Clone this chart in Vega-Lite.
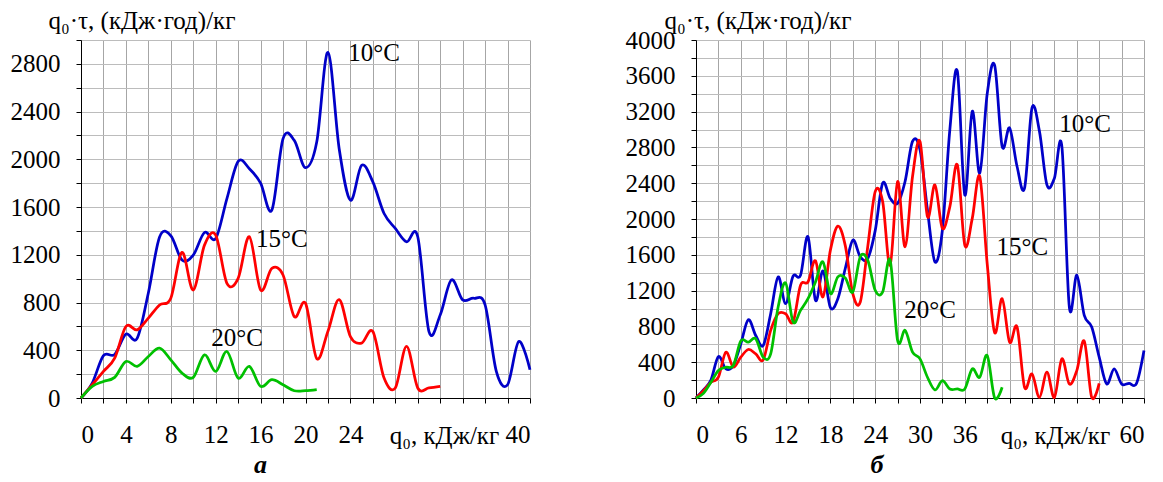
{
  "$schema": "https://vega.github.io/schema/vega-lite/v6.json",
  "padding": {"left": 10, "top": 8, "right": 5, "bottom": 5},
  "background": "white",
  "config": {
    "view": {"stroke": null},
    "title": {"font": "Liberation Serif", "fontSize": 26, "fontStyle": "italic", "fontWeight": "bold", "color": "black"}
  },
  "bounds": "flush",
  "spacing": 166,
  "hconcat": [
    {
      "width": 449,
      "height": 358,
      "title": {"text": "а", "orient": "bottom", "anchor": "middle", "dx": -45, "offset": 4},
      "resolve": {"axis": {"x": "independent", "y": "independent"}},
      "layer": [
        {
          "data": {"values": [
      {"s":"10","q":0,"v":0},{"s":"10","q":1,"v":125},{"s":"10","q":2,"v":355},{"s":"10","q":3,"v":365},{"s":"10","q":4,"v":535},{"s":"10","q":5,"v":500},{"s":"10","q":6,"v":880},{"s":"10","q":7,"v":1350},{"s":"10","q":8,"v":1360},{"s":"10","q":9,"v":1156},{"s":"10","q":10,"v":1198},{"s":"10","q":11,"v":1387},{"s":"10","q":12,"v":1337},{"s":"10","q":13,"v":1671},{"s":"10","q":14,"v":1983},{"s":"10","q":15,"v":1922},{"s":"10","q":16,"v":1800},{"s":"10","q":17,"v":1574},{"s":"10","q":18,"v":2173},{"s":"10","q":19,"v":2159},{"s":"10","q":20,"v":1930},{"s":"10","q":21,"v":2145},{"s":"10","q":22,"v":2897},{"s":"10","q":23,"v":2089},{"s":"10","q":24,"v":1657},{"s":"10","q":25,"v":1950},{"s":"10","q":26,"v":1811},{"s":"10","q":27,"v":1546},{"s":"10","q":28,"v":1421},{"s":"10","q":29,"v":1309},{"s":"10","q":30,"v":1351},{"s":"10","q":31,"v":557},{"s":"10","q":32,"v":696},{"s":"10","q":33,"v":989},{"s":"10","q":34,"v":822},{"s":"10","q":35,"v":836},{"s":"10","q":36,"v":780},{"s":"10","q":37,"v":223},{"s":"10","q":38,"v":111},{"s":"10","q":39,"v":474},{"s":"10","q":40,"v":237},
      {"s":"15","q":0,"v":0},{"s":"15","q":1,"v":111},{"s":"15","q":2,"v":223},{"s":"15","q":3,"v":334},{"s":"15","q":4,"v":599},{"s":"15","q":5,"v":571},{"s":"15","q":6,"v":669},{"s":"15","q":7,"v":780},{"s":"15","q":8,"v":836},{"s":"15","q":9,"v":1220},{"s":"15","q":10,"v":905},{"s":"15","q":11,"v":1281},{"s":"15","q":12,"v":1365},{"s":"15","q":13,"v":961},{"s":"15","q":14,"v":1003},{"s":"15","q":15,"v":1351},{"s":"15","q":16,"v":905},{"s":"15","q":17,"v":1086},{"s":"15","q":18,"v":1031},{"s":"15","q":19,"v":682},{"s":"15","q":20,"v":794},{"s":"15","q":21,"v":330},{"s":"15","q":22,"v":560},{"s":"15","q":23,"v":825},{"s":"15","q":24,"v":515},{"s":"15","q":25,"v":460},{"s":"15","q":26,"v":557},{"s":"15","q":27,"v":167},{"s":"15","q":28,"v":84},{"s":"15","q":29,"v":432},{"s":"15","q":30,"v":84},{"s":"15","q":31,"v":84},{"s":"15","q":32,"v":97},
      {"s":"20","q":0,"v":0},{"s":"20","q":1,"v":97},{"s":"20","q":2,"v":139},{"s":"20","q":3,"v":173},{"s":"20","q":4,"v":306},{"s":"20","q":5,"v":265},{"s":"20","q":6,"v":348},{"s":"20","q":7,"v":418},{"s":"20","q":8,"v":320},{"s":"20","q":9,"v":209},{"s":"20","q":10,"v":173},{"s":"20","q":11,"v":362},{"s":"20","q":12,"v":223},{"s":"20","q":13,"v":390},{"s":"20","q":14,"v":167},{"s":"20","q":15,"v":265},{"s":"20","q":16,"v":97},{"s":"20","q":17,"v":153},{"s":"20","q":18,"v":111},{"s":"20","q":19,"v":61},{"s":"20","q":20,"v":61},{"s":"20","q":21,"v":70}
          ]},
          "mark": {"type": "line", "interpolate": "cardinal", "strokeWidth": 2.75},
          "encoding": {
            "x": {
              "field": "q", "type": "quantitative",
              "scale": {"domain": [0, 40], "nice": false},
              "axis": {
                "values": [0,2,4,6,8,10,12,14,16,18,20,22,24,26,28,30,32,34,36,38,40],
                "format": "d",
                "labelOverlap": false,
                "labelFont": "Liberation Serif", "labelFontSize": 25, "labelColor": "black",
                "labelExpr": "(datum.value % 4 === 0 && (datum.value <= 24 || datum.value === 40)) ? datum.label : ''",
                "labelPadding": 19,
                "tickSize": 5, "tickColor": "black", "domainColor": "black",
                "grid": true, "gridColor": "#a6a6a6", "gridOpacity": 1,
                "title": "q₀, кДж/кг",
                "titleFont": "Liberation Serif", "titleFontSize": 25, "titleFontWeight": "normal", "titleColor": "black",
                "titleX": 363, "titleY": 45, "titleAlign": "center", "titleBaseline": "alphabetic"
              }
            },
            "y": {
              "field": "v", "type": "quantitative",
              "scale": {"domain": [0, 3000], "nice": false},
              "axis": {
                "values": [0,200,400,600,800,1000,1200,1400,1600,1800,2000,2200,2400,2600,2800,3000],
                "format": "d",
                "labelOverlap": false,
                "labelFont": "Liberation Serif", "labelFontSize": 25, "labelColor": "black",
                "labelExpr": "datum.value % 400 === 0 ? datum.label : ''",
                "labelPadding": 16,
                "tickSize": 5, "tickColor": "black", "domainColor": "black",
                "grid": true, "gridColor": "#bcbcbc", "gridOpacity": 1,
                "title": "q₀·τ, (кДж·год)/кг",
                "titleFont": "Liberation Serif", "titleFontSize": 25, "titleFontWeight": "normal", "titleColor": "black",
                "titleAngle": 0, "titleAlign": "left", "titleBaseline": "alphabetic",
                "titleX": -33, "titleY": -12
              }
            },
            "color": {
              "field": "s", "type": "nominal", "legend": null,
              "scale": {"domain": ["10","15","20"], "range": ["#0000C8","#FF0000","#00C000"]}
            }
          }
        },
        {
          "data": {"values": [
            {"t":"10°C","q":26.1,"v":2890},{"t":"15°C","q":17.9,"v":1330},{"t":"20°C","q":13.9,"v":502}
          ]},
          "mark": {"type": "text", "font": "Liberation Serif", "fontSize": 25, "align": "center", "baseline": "middle", "color": "black"},
          "encoding": {
            "x": {"field": "q", "type": "quantitative", "axis": null},
            "y": {"field": "v", "type": "quantitative", "axis": null},
            "text": {"field": "t"}
          }
        }
      ]
    },
    {
      "width": 448,
      "height": 358,
      "title": {"text": "б", "orient": "bottom", "anchor": "middle", "dx": -43, "offset": 4},
      "resolve": {"axis": {"x": "independent", "y": "independent"}},
      "layer": [
        {
          "data": {"values": [
      {"s":"10","q":0,"v":0},{"s":"10","q":1,"v":90},{"s":"10","q":2,"v":200},{"s":"10","q":3,"v":463},{"s":"10","q":4,"v":325},{"s":"10","q":5,"v":363},{"s":"10","q":6,"v":605},{"s":"10","q":7,"v":875},{"s":"10","q":8,"v":699},{"s":"10","q":9,"v":587},{"s":"10","q":10,"v":942},{"s":"10","q":11,"v":1353},{"s":"10","q":12,"v":1054},{"s":"10","q":13,"v":1361},{"s":"10","q":14,"v":1372},{"s":"10","q":15,"v":1802},{"s":"10","q":16,"v":1092},{"s":"10","q":17,"v":1420},{"s":"10","q":18,"v":1009},{"s":"10","q":19,"v":1110},{"s":"10","q":20,"v":1450},{"s":"10","q":21,"v":1764},{"s":"10","q":22,"v":1578},{"s":"10","q":23,"v":1559},{"s":"10","q":24,"v":1870},{"s":"10","q":25,"v":2400},{"s":"10","q":26,"v":2232},{"s":"10","q":27,"v":2176},{"s":"10","q":28,"v":2419},{"s":"10","q":29,"v":2867},{"s":"10","q":30,"v":2774},{"s":"10","q":31,"v":2100},{"s":"10","q":32,"v":1521},{"s":"10","q":33,"v":1877},{"s":"10","q":34,"v":3000},{"s":"10","q":35,"v":3652},{"s":"10","q":36,"v":2269},{"s":"10","q":37,"v":3204},{"s":"10","q":38,"v":2512},{"s":"10","q":39,"v":3400},{"s":"10","q":40,"v":3716},{"s":"10","q":41,"v":2811},{"s":"10","q":42,"v":3017},{"s":"10","q":43,"v":2587},{"s":"10","q":44,"v":2344},{"s":"10","q":45,"v":3241},{"s":"10","q":46,"v":2979},{"s":"10","q":47,"v":2381},{"s":"10","q":48,"v":2456},{"s":"10","q":49,"v":2811},{"s":"10","q":50,"v":1017},{"s":"10","q":51,"v":1372},{"s":"10","q":52,"v":923},{"s":"10","q":53,"v":793},{"s":"10","q":54,"v":456},{"s":"10","q":55,"v":157},{"s":"10","q":56,"v":325},{"s":"10","q":57,"v":157},{"s":"10","q":58,"v":164},{"s":"10","q":59,"v":164},{"s":"10","q":60,"v":531},
      {"s":"15","q":0,"v":0},{"s":"15","q":1,"v":82},{"s":"15","q":2,"v":176},{"s":"15","q":3,"v":232},{"s":"15","q":4,"v":512},{"s":"15","q":5,"v":344},{"s":"15","q":6,"v":456},{"s":"15","q":7,"v":542},{"s":"15","q":8,"v":493},{"s":"15","q":9,"v":426},{"s":"15","q":10,"v":755},{"s":"15","q":11,"v":942},{"s":"15","q":12,"v":942},{"s":"15","q":13,"v":849},{"s":"15","q":14,"v":1260},{"s":"15","q":15,"v":1297},{"s":"15","q":16,"v":1533},{"s":"15","q":17,"v":1129},{"s":"15","q":18,"v":1652},{"s":"15","q":19,"v":1921},{"s":"15","q":20,"v":1700},{"s":"15","q":21,"v":1166},{"s":"15","q":22,"v":1073},{"s":"15","q":23,"v":1690},{"s":"15","q":24,"v":2306},{"s":"15","q":25,"v":2194},{"s":"15","q":26,"v":1484},{"s":"15","q":27,"v":2419},{"s":"15","q":28,"v":1690},{"s":"15","q":29,"v":2475},{"s":"15","q":30,"v":2867},{"s":"15","q":31,"v":2026},{"s":"15","q":32,"v":2381},{"s":"15","q":33,"v":1895},{"s":"15","q":34,"v":2138},{"s":"15","q":35,"v":2605},{"s":"15","q":36,"v":1708},{"s":"15","q":37,"v":2007},{"s":"15","q":38,"v":2475},{"s":"15","q":39,"v":1500},{"s":"15","q":40,"v":730},{"s":"15","q":41,"v":1110},{"s":"15","q":42,"v":624},{"s":"15","q":43,"v":793},{"s":"15","q":44,"v":120},{"s":"15","q":45,"v":269},{"s":"15","q":46,"v":7},{"s":"15","q":47,"v":288},{"s":"15","q":48,"v":7},{"s":"15","q":49,"v":437},{"s":"15","q":50,"v":157},{"s":"15","q":51,"v":306},{"s":"15","q":52,"v":636},{"s":"15","q":53,"v":7},{"s":"15","q":54,"v":164},
      {"s":"20","q":0,"v":0},{"s":"20","q":1,"v":52},{"s":"20","q":2,"v":176},{"s":"20","q":3,"v":307},{"s":"20","q":4,"v":344},{"s":"20","q":5,"v":363},{"s":"20","q":6,"v":636},{"s":"20","q":7,"v":624},{"s":"20","q":8,"v":662},{"s":"20","q":9,"v":456},{"s":"20","q":10,"v":493},{"s":"20","q":11,"v":1017},{"s":"20","q":12,"v":1286},{"s":"20","q":13,"v":849},{"s":"20","q":14,"v":979},{"s":"20","q":15,"v":1110},{"s":"20","q":16,"v":1297},{"s":"20","q":17,"v":1521},{"s":"20","q":18,"v":1166},{"s":"20","q":19,"v":1353},{"s":"20","q":20,"v":1340},{"s":"20","q":21,"v":1185},{"s":"20","q":22,"v":1578},{"s":"20","q":23,"v":1540},{"s":"20","q":24,"v":1204},{"s":"20","q":25,"v":1185},{"s":"20","q":26,"v":1540},{"s":"20","q":27,"v":643},{"s":"20","q":28,"v":755},{"s":"20","q":29,"v":512},{"s":"20","q":30,"v":437},{"s":"20","q":31,"v":232},{"s":"20","q":32,"v":90},{"s":"20","q":33,"v":194},{"s":"20","q":34,"v":101},{"s":"20","q":35,"v":101},{"s":"20","q":36,"v":101},{"s":"20","q":37,"v":325},{"s":"20","q":38,"v":232},{"s":"20","q":39,"v":475},{"s":"20","q":40,"v":0},{"s":"20","q":41,"v":120}
          ]},
          "mark": {"type": "line", "interpolate": "cardinal", "strokeWidth": 2.75},
          "encoding": {
            "x": {
              "field": "q", "type": "quantitative",
              "scale": {"domain": [0, 60], "nice": false},
              "axis": {
                "values": [0,3,6,9,12,15,18,21,24,27,30,33,36,39,42,45,48,51,54,57,60],
                "format": "d",
                "labelOverlap": false,
                "labelFont": "Liberation Serif", "labelFontSize": 25, "labelColor": "black",
                "labelExpr": "(datum.value % 6 === 0 && (datum.value <= 36 || datum.value === 60)) ? datum.label : ''",
                "labelPadding": 19,
                "tickSize": 5, "tickColor": "black", "domainColor": "black",
                "grid": true, "gridColor": "#a6a6a6", "gridOpacity": 1,
                "title": "q₀, кДж/кг",
                "titleFont": "Liberation Serif", "titleFontSize": 25, "titleFontWeight": "normal", "titleColor": "black",
                "titleX": 359, "titleY": 45, "titleAlign": "center", "titleBaseline": "alphabetic"
              }
            },
            "y": {
              "field": "v", "type": "quantitative",
              "scale": {"domain": [0, 4000], "nice": false},
              "axis": {
                "values": [0,200,400,600,800,1000,1200,1400,1600,1800,2000,2200,2400,2600,2800,3000,3200,3400,3600,3800,4000],
                "format": "d",
                "labelOverlap": false,
                "labelFont": "Liberation Serif", "labelFontSize": 25, "labelColor": "black",
                "labelExpr": "datum.value % 400 === 0 ? datum.label : ''",
                "labelPadding": 16,
                "tickSize": 5, "tickColor": "black", "domainColor": "black",
                "grid": true, "gridColor": "#bcbcbc", "gridOpacity": 1,
                "title": "q₀·τ, (кДж·год)/кг",
                "titleFont": "Liberation Serif", "titleFontSize": 25, "titleFontWeight": "normal", "titleColor": "black",
                "titleAngle": 0, "titleAlign": "left", "titleBaseline": "alphabetic",
                "titleX": -32, "titleY": -12
              }
            },
            "color": {
              "field": "s", "type": "nominal", "legend": null,
              "scale": {"domain": ["10","15","20"], "range": ["#0000C8","#FF0000","#00C000"]}
            }
          }
        },
        {
          "data": {"values": [
            {"t":"10°C","q":52.1,"v":3057},{"t":"15°C","q":43.7,"v":1690},{"t":"20°C","q":31.35,"v":983}
          ]},
          "mark": {"type": "text", "font": "Liberation Serif", "fontSize": 25, "align": "center", "baseline": "middle", "color": "black"},
          "encoding": {
            "x": {"field": "q", "type": "quantitative", "axis": null},
            "y": {"field": "v", "type": "quantitative", "axis": null},
            "text": {"field": "t"}
          }
        }
      ]
    }
  ]
}
